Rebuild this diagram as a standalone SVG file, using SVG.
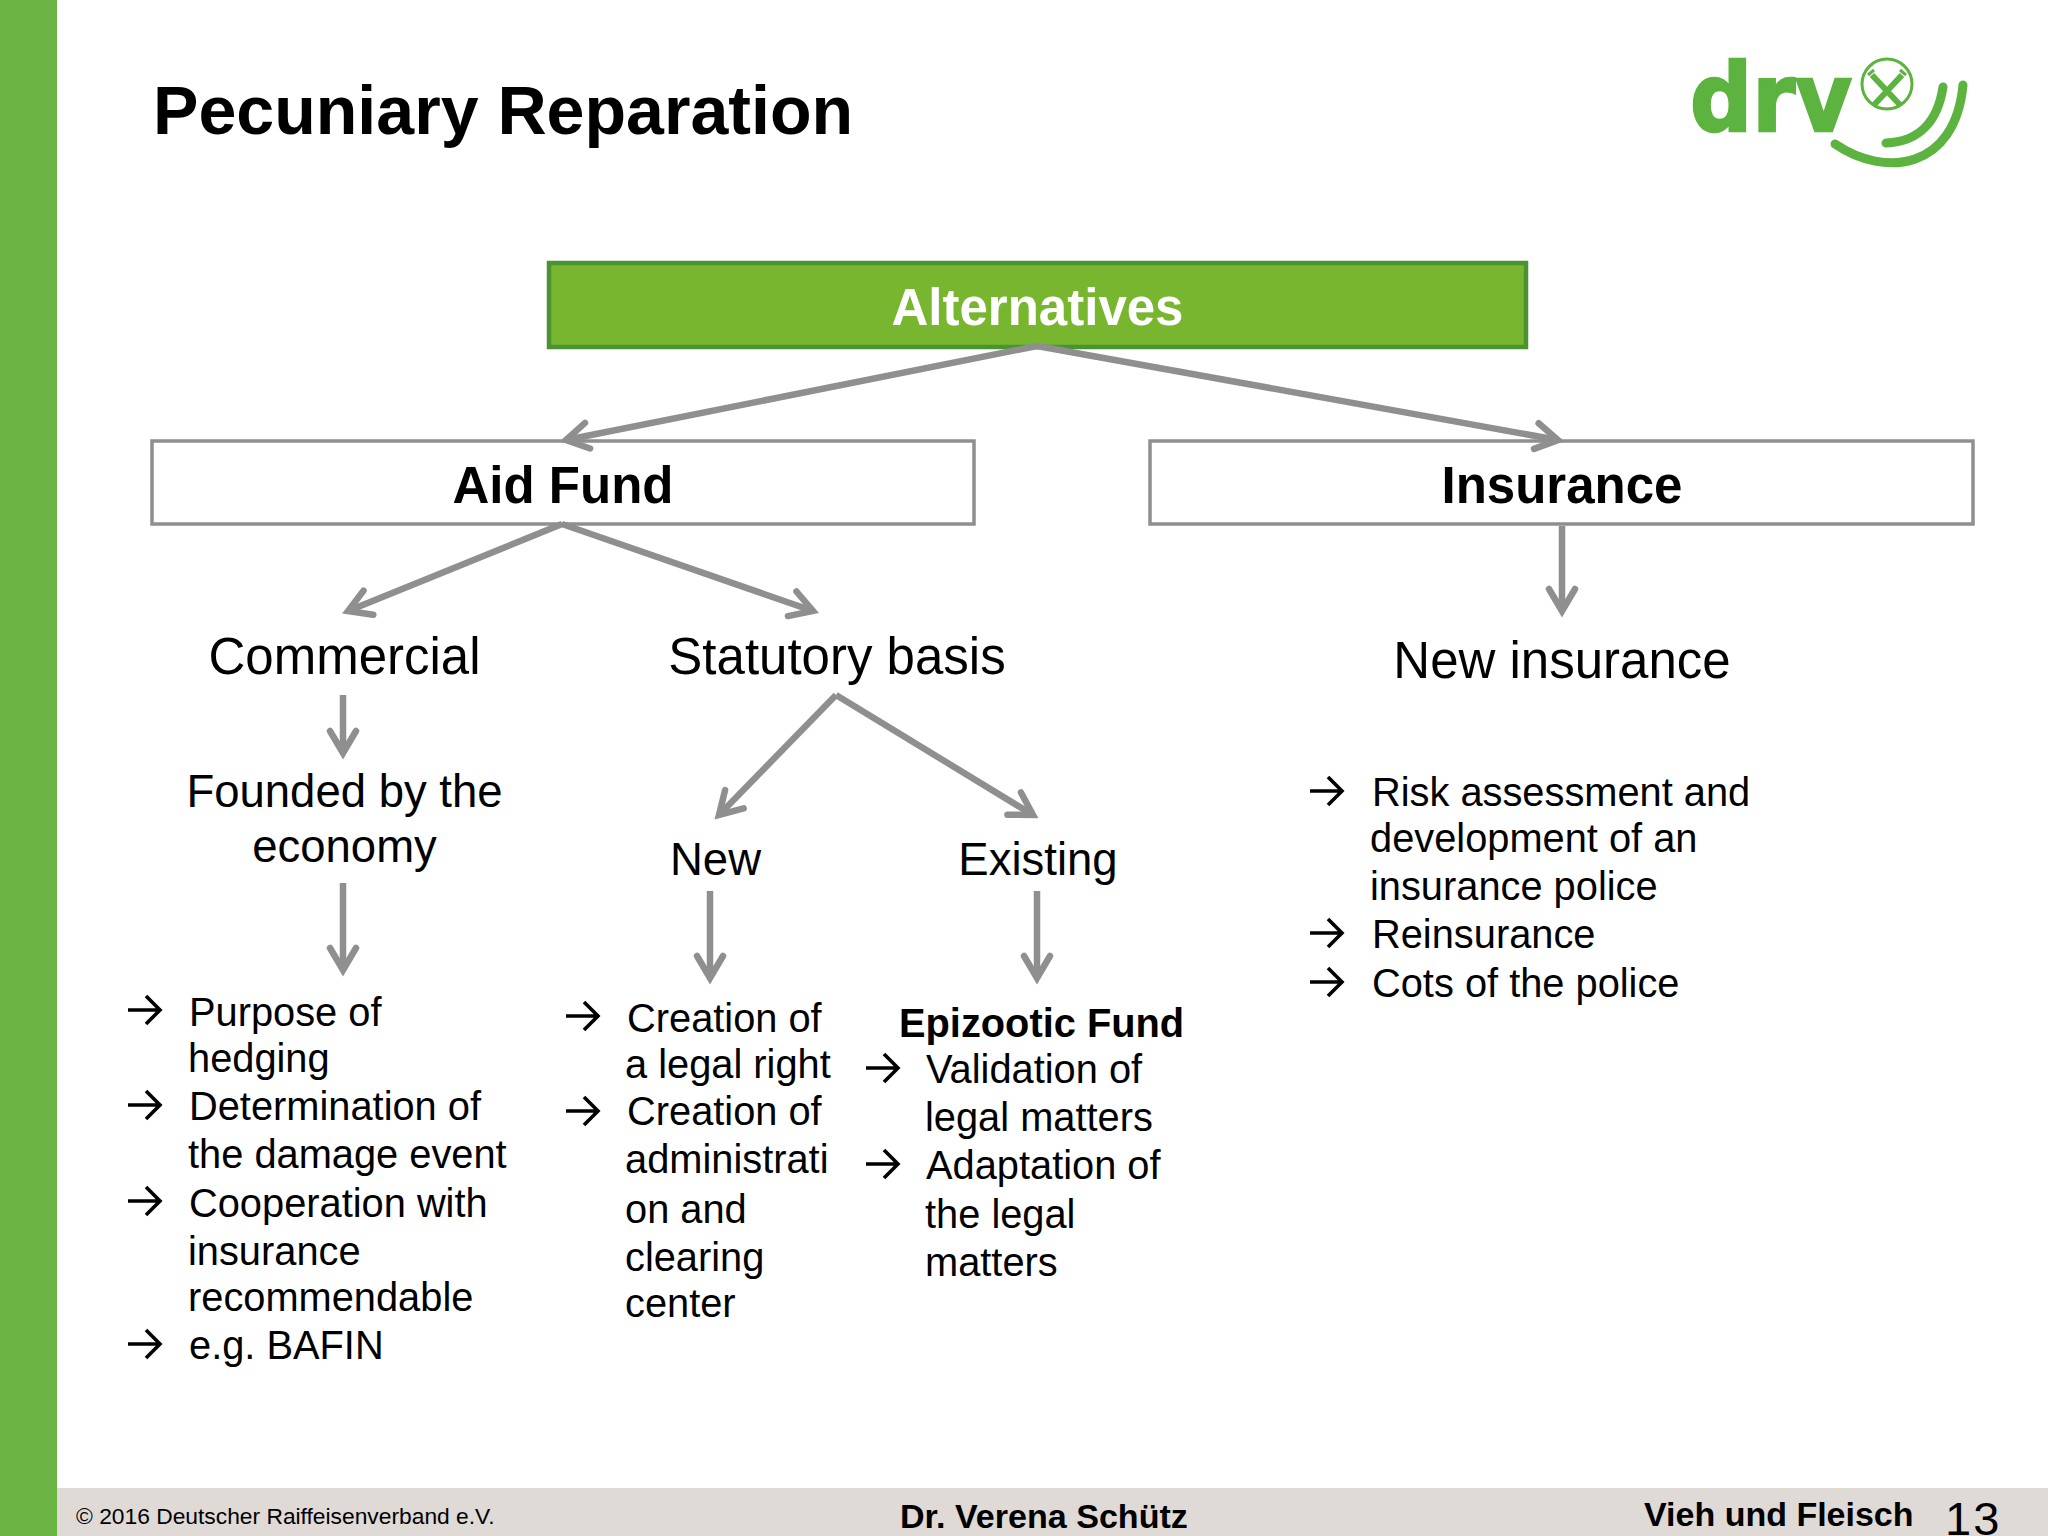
<svg xmlns="http://www.w3.org/2000/svg" width="2048" height="1536" viewBox="0 0 2048 1536">
<style>
text{font-family:"Liberation Sans",Arial,sans-serif;fill:#000}
.b{font-weight:700}
.m{text-anchor:middle}
.h{font-size:51px}
.s{font-size:45.5px}
.l{font-size:39.800px}
.box{fill:#fff;stroke:#8f8f8f;stroke-width:3.5}
.c{fill:none;stroke:#8f8f8f;stroke-width:6.5;marker-end:url(#ah)}
</style>
<defs>
<marker id="ah" markerUnits="userSpaceOnUse" markerWidth="40" markerHeight="40" refX="30" refY="20" viewBox="0 0 40 40" orient="auto"><path d="M8,7 L30,20 L8,33" fill="none" stroke="#8f8f8f" stroke-width="6.5" stroke-linecap="round"/></marker>
<g id="bul"><path d="M0,0H31M18,-14L32,0L18,14" fill="none" stroke="#000" stroke-width="3.600"/></g>
</defs>
<rect width="2048" height="1536" fill="#fff"/>
<rect id="sidebar" width="57" height="1536" fill="#6cb545"/>
<rect id="footer" x="57" y="1488" width="1991" height="48" fill="#e0dad7"/>
<text id="title" class="b" x="153" y="134" font-size="68.100">Pecuniary Reparation</text>
<g id="logo">
<text x="1690" y="131" font-size="94" textLength="162" lengthAdjust="spacingAndGlyphs" style="font-family:'DejaVu Sans',sans-serif;font-weight:700;fill:#5cb33f;stroke:#5cb33f;stroke-width:2.500">drv</text>
<circle cx="1887" cy="84" r="25" fill="none" stroke="#5cb33f" stroke-width="3"/>
<path d="M1872,75L1901,106M1902,75L1873,106" stroke="#5cb33f" stroke-width="6" fill="none"/>
<path d="M1868,75L1874,70M1906,75L1900,70" stroke="#5cb33f" stroke-width="3" fill="none"/>
<path d="M1835,144C1885,178 1955,170 1963,85M1886,143C1920,142 1938,120 1943,87" stroke="#5cb33f" stroke-width="9" stroke-linecap="round" fill="none"/>
</g>
<g id="alternatives"><rect x="549" y="263" width="977" height="84" fill="#79b62f" stroke="#4a9332" stroke-width="4.500"/><text class="b m h" x="1037.500" y="325" style="fill:#fff">Alternatives</text></g>
<g id="aid-fund"><rect class="box" x="152" y="441" width="822" height="83"/><text class="b m h" x="563" y="503">Aid Fund</text></g>
<g id="insurance"><rect class="box" x="1150" y="441" width="823" height="83"/><text class="b m h" x="1562" y="503">Insurance</text></g>
<g id="connectors">
<path class="c" d="M1037,346L566,440"/>
<path class="c" d="M1037,346L1558,440"/>
<path class="c" d="M562,524L348,611"/>
<path class="c" d="M562,524L813,611"/>
<path class="c" d="M1562,526V611"/>
<path class="c" d="M343,695V753"/>
<path class="c" d="M343,883V970"/>
<path class="c" d="M836,695L719,815"/>
<path class="c" d="M836,695L1033,815"/>
<path class="c" d="M710,891V978"/>
<path class="c" d="M1037,891V978"/>
</g>
<g id="commercial"><text class="m h" x="344.500" y="674">Commercial</text></g>
<g id="statutory"><text class="m h" x="837" y="674">Statutory basis</text></g>
<g id="new-insurance"><text class="m h" x="1562" y="678">New insurance</text></g>
<g id="founded"><text class="m s" x="344.500" y="807">Founded by the</text><text class="m s" x="344.500" y="862">economy</text></g>
<g id="new"><text class="m s" x="715.500" y="875">New</text></g>
<g id="existing"><text class="m s" x="1038" y="875">Existing</text></g>
<g id="list-commercial">
<use href="#bul" x="128" y="1010"/><use href="#bul" x="128" y="1105"/><use href="#bul" x="128" y="1201"/><use href="#bul" x="128" y="1344"/>
<text class="l" x="189" y="1026">Purpose of</text><text class="l" x="188" y="1072">hedging</text><text class="l" x="189" y="1120">Determination of</text><text class="l" x="188" y="1168">the damage event</text><text class="l" x="189" y="1217">Cooperation with</text><text class="l" x="188" y="1265">insurance</text><text class="l" x="188" y="1311">recommendable</text><text class="l" x="189" y="1359">e.g. BAFIN</text>
</g>
<g id="list-new">
<use href="#bul" x="566" y="1016"/><use href="#bul" x="566" y="1111"/>
<text class="l" x="627" y="1032">Creation of</text><text class="l" x="625" y="1078">a legal right</text><text class="l" x="627" y="1125">Creation of</text><text class="l" x="625" y="1173">administrati</text><text class="l" x="625" y="1223">on and</text><text class="l" x="625" y="1271">clearing</text><text class="l" x="625" y="1317">center</text>
</g>
<g id="list-existing">
<text class="l b" x="899" y="1037">Epizootic Fund</text>
<use href="#bul" x="866" y="1068"/><use href="#bul" x="866" y="1164"/>
<text class="l" x="926" y="1083">Validation of</text><text class="l" x="925" y="1131">legal matters</text><text class="l" x="926" y="1179">Adaptation of</text><text class="l" x="925" y="1228">the legal</text><text class="l" x="925" y="1276">matters</text>
</g>
<g id="list-insurance">
<use href="#bul" x="1310" y="791"/><use href="#bul" x="1310" y="933"/><use href="#bul" x="1310" y="982"/>
<text class="l" x="1372" y="806">Risk assessment and</text><text class="l" x="1370" y="852">development of an</text><text class="l" x="1370" y="900">insurance police</text><text class="l" x="1372" y="948">Reinsurance</text><text class="l" x="1372" y="997">Cots of the police</text>
</g>
<g id="footer-text">
<text x="76" y="1523.500" font-size="22.800">© 2016 Deutscher Raiffeisenverband e.V.</text>
<text class="b" x="900" y="1528" font-size="34.100">Dr. Verena Schütz</text>
<text class="b" x="1644" y="1526" font-size="34">Vieh und Fleisch</text>
<text x="1945" y="1535" font-size="47" letter-spacing="2">13</text>
</g>
</svg>
